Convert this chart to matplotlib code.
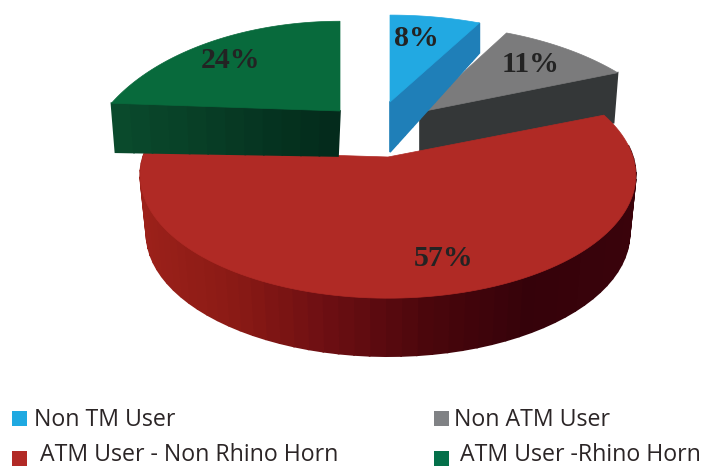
import numpy as np
import matplotlib
matplotlib.use('Agg')
import matplotlib.pyplot as plt
from matplotlib.colors import to_rgb
from matplotlib.patches import Polygon, Rectangle

labels = ['Non TM User', 'Non ATM User', 'ATM User - Non Rhino Horn', 'ATM User -Rhino Horn']
values = [8, 11, 57, 24]
pct_text = ['8%', '11%', '57%', '24%']

top_colors = ['#22a9e2', '#7b7b7c', '#b02a25', '#086a3c']
legend_colors = ['#1fa9e1', '#808285', '#b22a26', '#04704a']
# cut face colours, left to right
cut_colors = [('#1f7fb8', '#1f7fb8'), ('#343738', '#343738'), None, ('#0a4a2c', '#03281a')]
# red rim colours, left to right
rim_colors = ['#9c211a', '#8a1a15', '#6b0e12', '#4a060c', '#35020a', '#3a030b']

# apex x, apex y, a, b, perspective, outer depth, apex depth, outer x shift
slice_geom = [
    (390, 102, 253, 123, 0.415, 30, 50, 0),
    (420, 112, 245, 123, 0.415, 50, 50, -4),
    (388, 157, 245, 120, 0.15, 58, 58, 0),
    (340, 111, 235, 127, 0.415, 49, 45, 4),
]

pct_pos = [(416, 39), (531, 65), (444, 258), (230, 60)]
legend_boxes = [(12, 411), (434, 411), (12, 451), (434, 451)]
legend_text_x = [34, 454, 40, 460]
legend_baseline = [426, 426, 461, 461]

edges = np.concatenate([[0], np.cumsum(values)]) / np.sum(values) * 2 * np.pi


def project(theta, geom, scale=1.0, dy=0.0):
    x0, y0, a, b, k = geom[:5]
    u, v = np.sin(theta), np.cos(theta)
    s = 1 / (1 + k * v)
    return np.column_stack([x0 + scale * a * u * s, y0 + dy - b * v * s])


def blend(cols, t):
    cols = np.array([to_rgb(c) for c in cols])
    p = np.linspace(0, 1, len(cols))
    return [np.interp(t, p, cols[:, i]) for i in range(3)]


fig = plt.figure(figsize=(7.05, 4.67), dpi=100)
ax = fig.add_axes([0, 0, 1, 1])
ax.set_xlim(0, 705)
ax.set_ylim(467, 0)
ax.axis('off')


def draw_top(i, z):
    geom = slice_geom[i]
    th = np.linspace(edges[i], edges[i + 1], 120)
    pts = np.vstack([[geom[0], geom[1]], project(th, geom)])
    ax.add_patch(Polygon(pts, closed=True, fc=top_colors[i], ec=top_colors[i], lw=0.5, zorder=z))


def draw_cut(i, theta, z):
    geom = slice_geom[i]
    outer = project(np.array([theta]), geom)[0]
    apex = np.array([geom[0], geom[1]], dtype=float)
    outer_low = outer + [geom[7], geom[5]]
    apex_low = apex + [0, geom[6]]
    if i == 3:
        apex_low = apex + [-2, geom[6]]
    left_first = outer[0] < apex[0]
    n = 12
    for j in range(n):
        t0, t1 = j / n, (j + 1) / n
        a0 = outer + (apex - outer) * t0
        a1 = outer + (apex - outer) * t1
        b0 = outer_low + (apex_low - outer_low) * t0
        b1 = outer_low + (apex_low - outer_low) * t1
        c = blend(cut_colors[i], t0 if left_first else 1 - t0)
        ax.add_patch(Polygon([a0, a1, b1, b0], closed=True, fc=c, ec=c, lw=1.2, snap=False, zorder=z))


# grey goes behind the red slice
draw_cut(1, edges[2], 2)
draw_top(1, 3)

# red rim, only the part facing the viewer
red = slice_geom[2]
th = np.linspace(np.pi / 2 - 0.1, edges[3], 60)
upper = project(th, red)
lower = project(th, red, scale=0.975, dy=red[5])
xmin, xmax = upper[:, 0].min(), upper[:, 0].max()
for j in range(len(th) - 1):
    c = blend(rim_colors, (upper[j, 0] - xmin) / (xmax - xmin))
    ax.add_patch(Polygon([upper[j], upper[j + 1], lower[j + 1], lower[j]], closed=True,
                         fc=c, ec=c, lw=1.2, snap=False, zorder=4))
draw_top(2, 5)

draw_cut(3, edges[3], 6)
draw_top(3, 7)

draw_cut(0, edges[1], 8)
draw_top(0, 9)

for s, (x, y) in zip(pct_text, pct_pos):
    ax.text(x, y, s, family='Liberation Serif', weight='bold', fontsize=21.5, color='#232323',
            ha='center', va='center', zorder=12)

for i, name in enumerate(labels):
    ax.add_patch(Rectangle(legend_boxes[i], 15, 15, fc=legend_colors[i], ec='none'))
    ax.text(legend_text_x[i], legend_baseline[i], name, family='Open Sans', fontsize=16.7,
            color='#2b2526', ha='left', va='baseline')

fig.savefig('out.png', dpi=100, facecolor='white')
